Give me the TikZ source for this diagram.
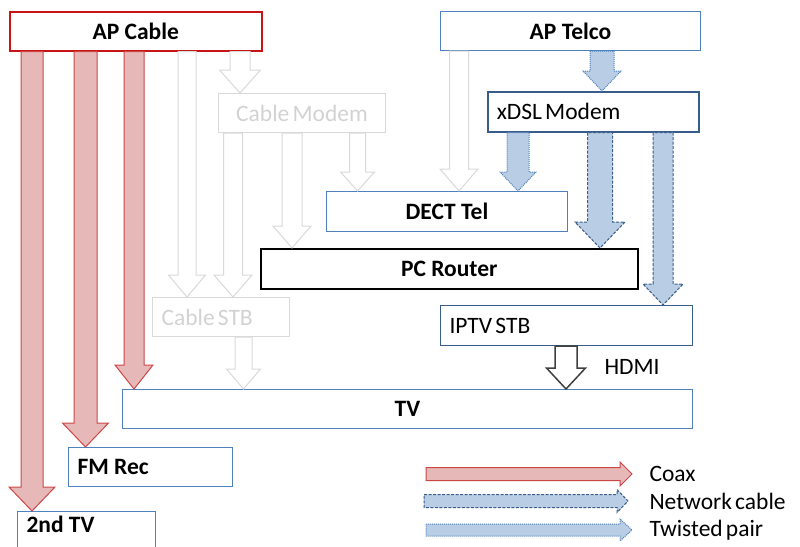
\documentclass[tikz,border=0pt]{standalone}
\usepackage{fontspec}
\setmainfont{Carlito}[WordSpace=0.6, BoldFeatures={WordSpace=1}]
\usetikzlibrary{positioning}

\definecolor{cabred}{RGB}{200,20,20}
\definecolor{coaxline}{RGB}{205,70,70}
\definecolor{coaxfill}{RGB}{230,185,184}
\definecolor{telblue}{RGB}{79,129,189}
\definecolor{darkblue}{RGB}{56,93,138}
\definecolor{lanfill}{RGB}{185,205,229}
\definecolor{ghostgray}{RGB}{217,217,217}
\definecolor{ghosttext}{RGB}{210,210,210}
\definecolor{hdmigray}{RGB}{64,64,64}

\newcommand{\dsize}{\fontsize{23.5}{27}\selectfont}

% block arrow going down: style, x, from, to, half shaft, half head, head length
\newcommand{\pipe}[7]{%
  \path (#2,0 |- #3.south) coordinate (p) (#2,0 |- #4.north) coordinate (q);
  \draw[#1] ([xshift=-#5]p) -- ([xshift=-#5,yshift=#7]q) -- ([xshift=-#6,yshift=#7]q)
    -- (q) -- ([xshift=#6,yshift=#7]q) -- ([xshift=#5,yshift=#7]q) -- ([xshift=#5]p) -- cycle;}
% block arrow going right (legend): style, tail, tip, half shaft, half head, head length
\newcommand{\lpipe}[6]{%
  \draw[#1] ([yshift=#4]#2) -- ([xshift=-#6,yshift=#4]#3) -- ([xshift=-#6,yshift=#5]#3)
    -- (#3) -- ([xshift=-#6,yshift=-#5]#3) -- ([xshift=-#6,yshift=-#4]#3) -- ([yshift=-#4]#2) -- cycle;}

\tikzset{
  box/.style={draw=telblue, line width=1pt, anchor=north west, minimum height=39,
    inner xsep=9pt, inner ysep=0pt, font=\dsize\bfseries},
  lbox/.style={box, text width=#1, align=flush left},
  ghost/.style={box, draw=ghostgray, text=ghosttext, font=\dsize},
  coax/.style={draw=coaxline, fill=coaxfill, line width=1pt},
  lan/.style={draw=darkblue, fill=lanfill, line width=1pt, dash pattern=on 3pt off 1.5pt},
  twisted/.style={draw=telblue, fill=lanfill, line width=1pt, dash pattern=on 1pt off 1pt},
  unused/.style={draw=ghostgray, fill=white, line width=1pt},
  hdmi/.style={draw=hdmigray, fill=white, line width=1.5pt},
}

\begin{document}
\begin{tikzpicture}[x=1pt, y=-1pt, line join=miter]
  \useasboundingbox (0,0) rectangle (800,546);

  % sources
  \node[box, draw=cabred, line width=1.5pt, minimum width=252] (apcable) at (9,11) {AP Cable};
  \node[box, minimum width=260] (aptelco) at (440,11) {AP Telco};
  % devices
  \node[ghost, minimum width=167] (cmodem) at (218,93) {Cable Modem};
  \node[lbox=193pt, draw=darkblue, line width=1.5pt, font=\dsize, minimum height=40] (xdsl) at (487,91) {xDSL Modem};
  \node[box, minimum width=241, minimum height=40] (dect) at (326,191) {DECT Tel};
  \node[box, draw=black, line width=1.5pt, minimum width=377, minimum height=40] (router) at (260,248) {PC Router};
  \node[ghost, text width=119pt, align=flush left] (cstb) at (152,297) {Cable STB};
  \node[lbox=234pt, draw=darkblue, font=\dsize, minimum height=40] (iptv) at (440,305) {IPTV STB};
  \node[box, minimum width=570] (tv) at (122,389) {TV};
  \node[lbox=146pt] (fmrec) at (68,447) {FM Rec};
  \node[lbox=120pt, text depth=14pt] (tvtwo) at (17,511) {2nd TV};

  % coax
  \pipe{coax}{32}{apcable}{tvtwo}{11}{23}{24}
  \pipe{coax}{85.5}{apcable}{fmrec}{11.5}{23}{24}
  \pipe{coax}{134}{apcable}{tv}{10}{19}{24}
  % unused cable path
  \pipe{unused}{187}{apcable}{cstb}{9}{18.5}{22}
  \pipe{unused}{240}{apcable}{cmodem}{10}{20.5}{23}
  \pipe{unused}{233}{cmodem}{cstb}{9.5}{19}{22}
  \pipe{unused}{292}{cmodem}{router}{10}{19}{22}
  \pipe{unused}{357.5}{cmodem}{dect}{8}{17}{19}
  \pipe{unused}{459}{aptelco}{dect}{9.5}{19}{22}
  \pipe{unused}{243.5}{cstb}{tv}{8.5}{17}{20}
  % telco
  \pipe{twisted}{602}{aptelco}{xdsl}{12}{19}{20}
  \pipe{twisted}{518}{xdsl}{dect}{11}{18}{19}
  \pipe{lan}{600}{xdsl}{router}{12.5}{25}{26}
  \pipe{lan}{663}{xdsl}{iptv}{10}{20}{21}
  \pipe{hdmi}{566}{iptv}{tv}{11}{19.5}{21}
  \node[anchor=west, font=\dsize] (hdmilbl) at (601,367) {HDMI};

  % legend
  \coordinate (coaxtail) at (426,474);
  \coordinate (coaxtip) at (632,474);
  \coordinate (lantail) at (424,501);
  \coordinate (lantip) at (628,501);
  \coordinate (tptail) at (426,530);
  \coordinate (tptip) at (632,530);
  \lpipe{coax}{coaxtail}{coaxtip}{6.5}{12}{12}
  \lpipe{lan}{lantail}{lantip}{6.5}{11.5}{11}
  \lpipe{twisted}{tptail}{tptip}{6}{11}{12}
  \node[right=14pt of coaxtip, font=\dsize] (coaxlbl) {Coax};
  \node[right=18pt of lantip, font=\dsize] (lanlbl) {Network cable};
  \node[right=14pt of tptip, font=\dsize] (tplbl) {Twisted pair};
\end{tikzpicture}
\end{document}
